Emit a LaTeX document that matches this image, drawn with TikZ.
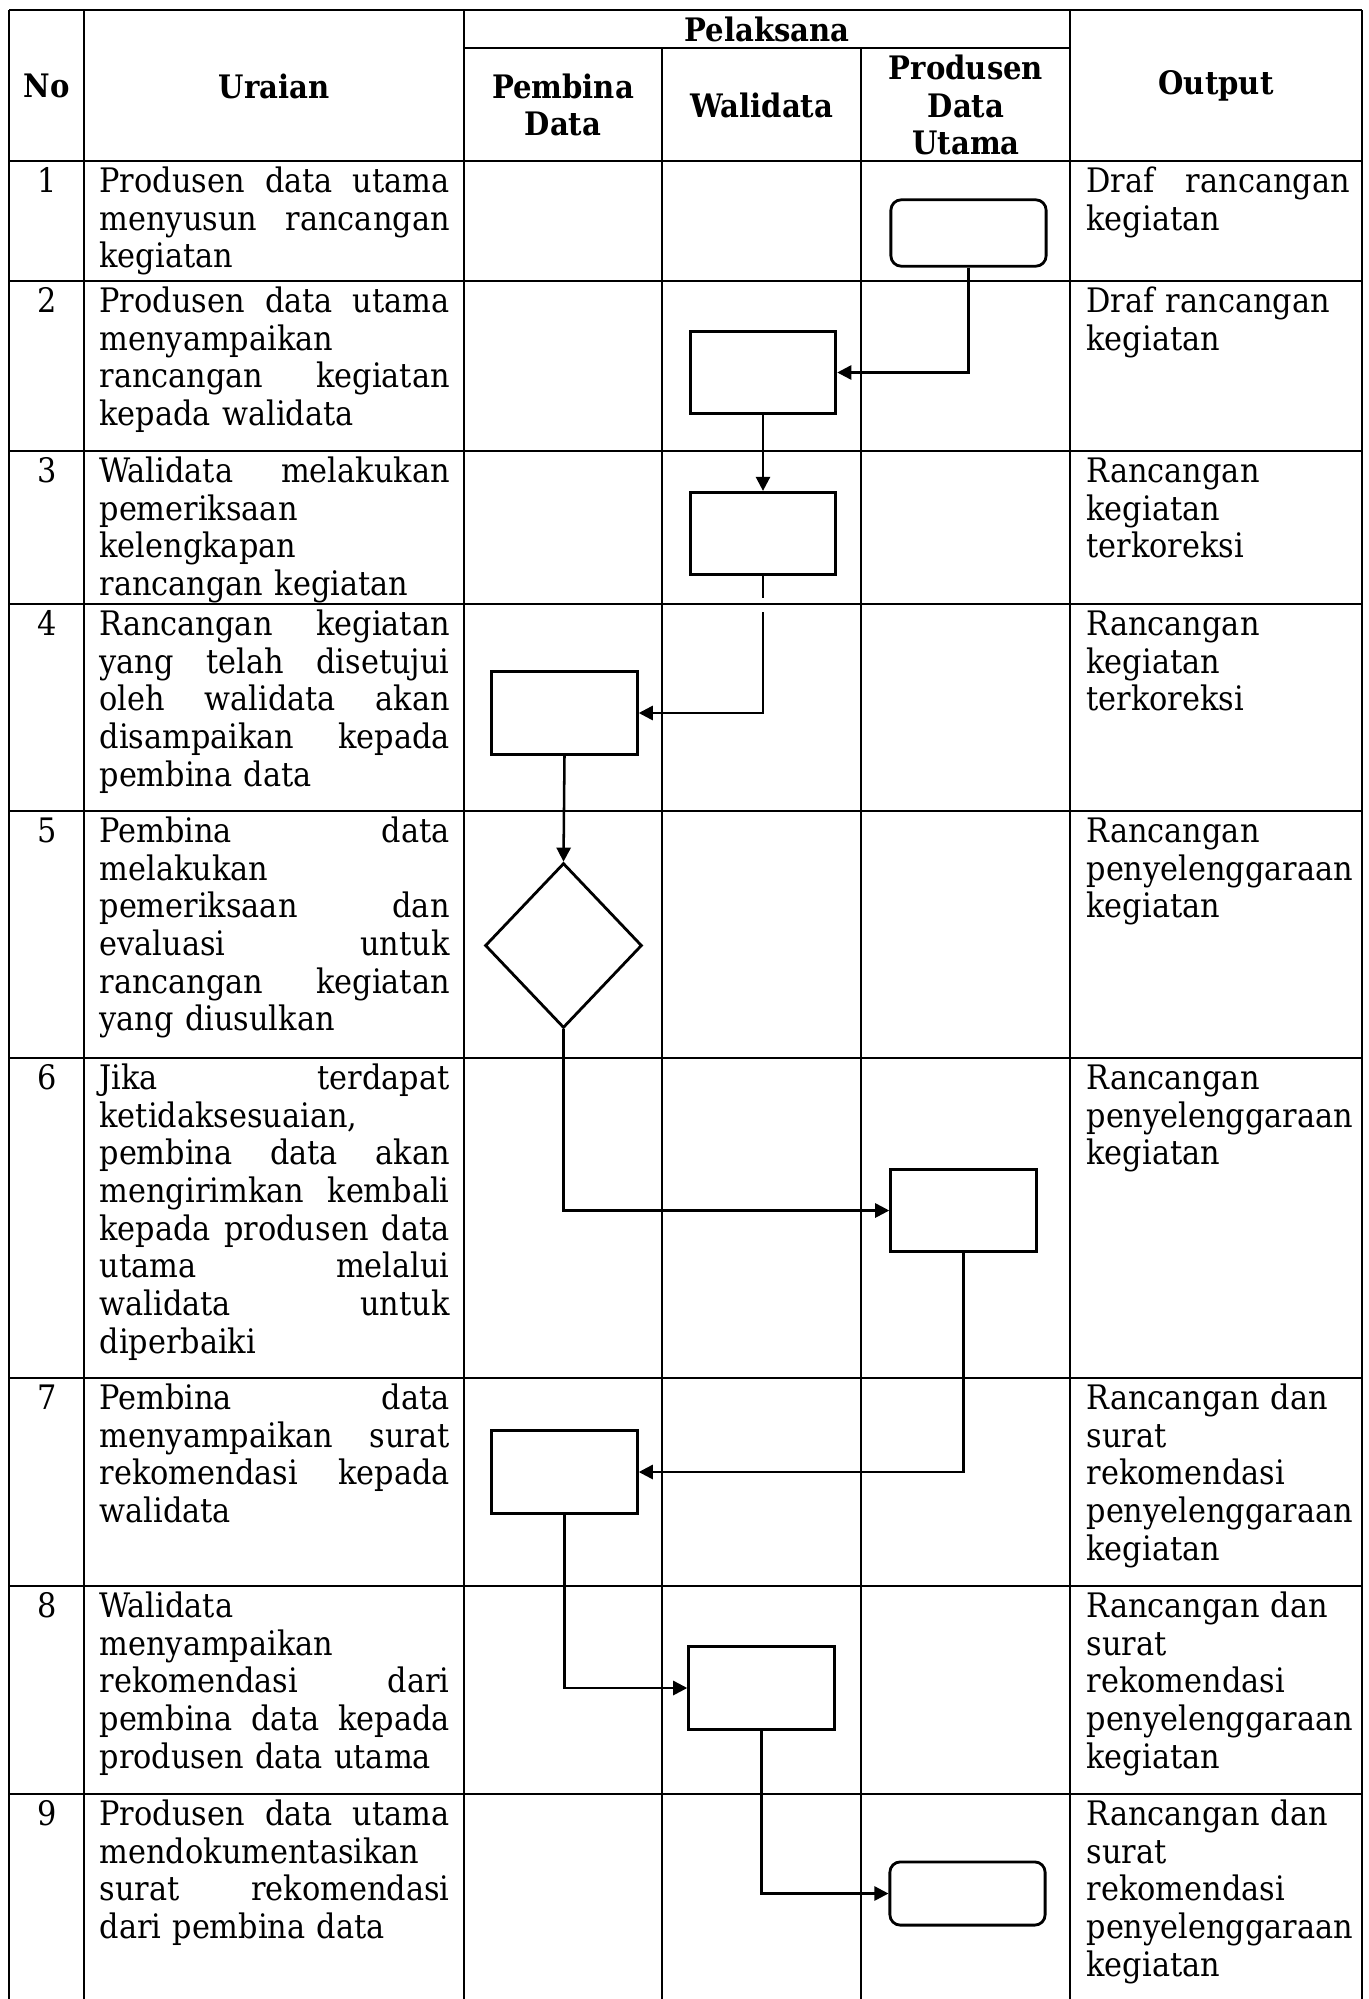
\documentclass[tikz,border=0pt]{standalone}
\usepackage{fontspec}
\setmainfont{DejaVu Serif Condensed}
\usetikzlibrary{arrows.meta,shapes.geometric,positioning}

% one justified line of a cell, spaces stretched to the given width
\newcommand{\jl}[2][4.375cm]{\leavevmode\hbox to #1{\spaceskip=\fontdimen2\font plus 1fil\relax #2}\\}

\tikzset{
  tbl/.style={line width=1pt},
  hd/.style={font=\fontsize{11.5}{13.4}\selectfont\bfseries,align=center,inner sep=0pt},
  ur/.style={anchor=north west,inner sep=0pt,text width=4.375cm,align=left},
  op/.style={anchor=north west,inner sep=0pt,text width=3.29cm,align=left},
  num/.style={anchor=north,inner sep=0pt},
  proc/.style={draw,line width=1pt,inner sep=0pt,minimum width=1.82cm,minimum height=1.03cm},
  term/.style={proc,rounded corners=0.13cm,minimum width=1.94cm,minimum height=0.83cm},
  dec/.style={draw,diamond,line width=1pt,inner sep=0pt,minimum width=1.96cm,minimum height=2.06cm},
  arr/.style={line width=0.9pt,-{Triangle[length=5pt,width=5pt]}}
}

\begin{document}
\begin{tikzpicture}[x=0.0125cm,y=-0.0125cm,every node/.style={font=\fontsize{12}{13.4}\selectfont}]
\useasboundingbox (0,0) rectangle (1368,1999);

% grid
\draw[tbl] (9,10) -- (1362,10);
\draw[tbl] (464,48) -- (1070,48);
\foreach \y in {161,281,451,604,811,1058,1378,1586,1794}
  \draw[tbl] (9,\y) -- (1362,\y);
\foreach \x in {9,84,464,1070,1362}
  \draw[tbl] (\x,10) -- (\x,1999);
\foreach \x in {662,861}
  \draw[tbl] (\x,48) -- (\x,1999);

% header
\node[hd] (hno) at (47,86) {No};
\node[hd] (hur) at (274,86) {Uraian};
\node[hd] (hpl) at (767,29) {Pelaksana};
\node[hd] (hpd) at (563,105) {Pembina\\Data};
\node[hd] (hwd) at (762,105) {Walidata};
\node[hd] (hpu) at (966,105) {Produsen\\Data\\Utama};
\node[hd] (hout) at (1216,86) {Output};

% numbers
\foreach \i/\y in {1/161,2/281,3/451,4/604,5/811,6/1058,7/1378,8/1586,9/1794}
  \node[num] (n\i) at (47,\y+4.6) {\strut\i};

% uraian
\node[ur] (u1) at (99,165.6) {\strut\jl{Produsen data utama}\jl{menyusun rancangan}kegiatan};
\node[ur] (u2) at (99,285.6) {\strut\jl{Produsen data utama}menyampaikan\\\jl{rancangan kegiatan}kepada walidata};
\node[ur] (u3) at (99,455.6) {\strut\jl{Walidata melakukan}pemeriksaan\\kelengkapan\\rancangan kegiatan};
\node[ur] (u4) at (99,608.6) {\strut\jl{Rancangan kegiatan}\jl{yang telah disetujui}\jl{oleh walidata akan}\jl{disampaikan kepada}pembina data};
\node[ur] (u5) at (99,815.6) {\strut\jl{Pembina data}melakukan\\\jl{pemeriksaan dan}\jl{evaluasi untuk}\jl{rancangan kegiatan}yang diusulkan};
\node[ur] (u6) at (99,1062.6) {\strut\jl{Jika terdapat}ketidaksesuaian,\\\jl{pembina data akan}\jl{mengirimkan kembali}\jl{kepada produsen data}\jl{utama melalui}\jl{walidata untuk}diperbaiki};
\node[ur] (u7) at (99,1382.6) {\strut\jl{Pembina data}\jl{menyampaikan surat}\jl{rekomendasi kepada}walidata};
\node[ur] (u8) at (99,1590.6) {\strut Walidata\\menyampaikan\\\jl{rekomendasi dari}\jl{pembina data kepada}produsen data utama};
\node[ur] (u9) at (99,1798.6) {\strut\jl{Produsen data utama}mendokumentasikan\\\jl{surat rekomendasi}dari pembina data};

% output
\node[op] (o1) at (1086,165.6) {\strut\jl[3.29cm]{Draf rancangan}kegiatan};
\node[op] (o2) at (1086,285.6) {\strut Draf rancangan\\kegiatan};
\node[op] (o3) at (1086,455.6) {\strut Rancangan\\kegiatan\\terkoreksi};
\node[op] (o4) at (1086,608.6) {\strut Rancangan\\kegiatan\\terkoreksi};
\node[op] (o5) at (1086,815.6) {\strut Rancangan\\penyelenggaraan\\kegiatan};
\node[op] (o6) at (1086,1062.6) {\strut Rancangan\\penyelenggaraan\\kegiatan};
\node[op] (o7) at (1086,1382.6) {\strut Rancangan dan\\surat\\rekomendasi\\penyelenggaraan\\kegiatan};
\node[op] (o8) at (1086,1590.6) {\strut Rancangan dan\\surat\\rekomendasi\\penyelenggaraan\\kegiatan};
\node[op] (o9) at (1086,1798.6) {\strut Rancangan dan\\surat\\rekomendasi\\penyelenggaraan\\kegiatan};

% flow
\node[term] (b1) at (968.5,233) {};
\node[proc] (b2) at (763,372.5) {};
\node[proc] (b3) at (763,533.5) {};
\node[proc] (b4) at (564.5,713) {};
\node[dec] (d5) at (563.5,945.5) {};
\node[proc] (b6) at (963.5,1210.5) {};
\node[proc] (b7) at (564.5,1472) {};
\node[proc] (b8) at (761.5,1688) {};
\node[term,minimum height=0.79cm] (b9) at (967.5,1893.5) {};

\coordinate (g1) at (763,598);
\coordinate (g2) at (763,612);

\draw[arr] (b1.south) |- (b2.east);
\draw[arr] (b2.south) -- (b3.north);
\draw[line width=0.4pt] (b3.south) -- (g1);
\draw[arr] (g2) |- (b4.east);
\draw[arr] (b4.south) -- (d5.north);
\draw[arr] (d5.south) |- (b6.west);
\draw[arr] (b6.south) |- (b7.east);
\draw[arr] (b7.south) |- (b8.west);
\draw[arr] (b8.south) |- (b9.west);
\end{tikzpicture}
\end{document}
